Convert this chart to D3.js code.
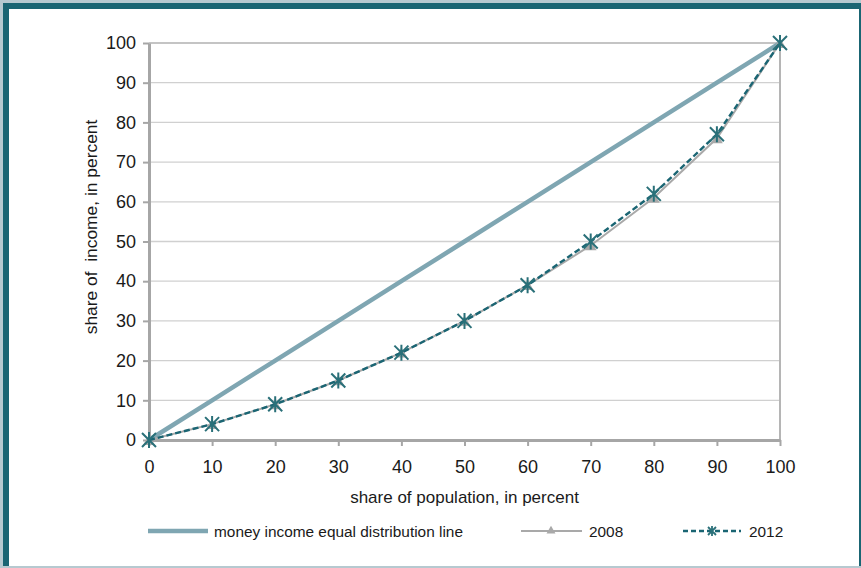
<!DOCTYPE html>
<html><head><meta charset="utf-8">
<script src="https://cdn.jsdelivr.net/npm/d3@7"></script>
<style>body{margin:0;padding:0;background:#fff}svg{display:block}text{font-family:"Liberation Sans",Arial,sans-serif;fill:#1a1a1a}</style>
</head><body>
<script>
const population = [0,10,20,30,40,50,60,70,80,90,100];
const equalLine = [0,10,20,30,40,50,60,70,80,90,100];
const share2008 = [0,4,9,15,22,30,39,49,61,76,100];
const share2012 = [0,4,9,15,22,30,39,50,62,77,100];
const yTicks = [0,10,20,30,40,50,60,70,80,90,100];
const xTitle = "share of population, in percent";
const yTitle = "share of  income, in percent";
const legendLabels = ["money income equal distribution line","2008","2012"];

const W=861,H=568;
const svg=d3.select("body").append("svg").attr("width",W).attr("height",H);
// frame
svg.append("rect").attr("width",W).attr("height",H).attr("fill","#b6c9d0");
svg.append("rect").attr("x",3).attr("y",3).attr("width",W-3).attr("height",563).attr("fill","#1a6573");
svg.append("rect").attr("x",9).attr("y",9).attr("width",850).attr("height",557).attr("fill","#ffffff");

const x=d3.scaleLinear().domain([0,100]).range([149,780]);
const y=d3.scaleLinear().domain([0,100]).range([440,43]);

// grid
svg.append("g").selectAll("line").data(yTicks.filter(d=>d>0)).join("line")
 .attr("x1",x(0)).attr("x2",x(100)).attr("y1",d=>y(d)).attr("y2",d=>y(d))
 .attr("stroke","#d0d0d0").attr("stroke-width",1.3);
svg.append("line").attr("x1",x(100)).attr("x2",x(100)).attr("y1",y(100)).attr("y2",y(0)).attr("stroke","#b5b5b5").attr("stroke-width",2);
svg.append("line").attr("x1",x(0)).attr("x2",x(100)).attr("y1",y(100)).attr("y2",y(100)).attr("stroke","#c4c4c4").attr("stroke-width",2);

// axes
const xAxis=svg.append("g").attr("transform",`translate(0,${y(0)})`)
 .call(d3.axisBottom(x).tickValues(population).tickSize(6).tickPadding(14).tickSizeOuter(0));
const yAxis=svg.append("g").attr("transform",`translate(${x(0)},0)`)
 .call(d3.axisLeft(y).tickValues(yTicks).tickSize(6).tickPadding(7).tickSizeOuter(0));
[xAxis,yAxis].forEach(a=>{
 a.select(".domain").attr("stroke","#a6a6a6").attr("stroke-width",3);
 a.selectAll(".tick line").attr("stroke","#a6a6a6").attr("stroke-width",2);
 a.selectAll(".tick text").attr("font-size",18).attr("fill","#1a1a1a").attr("font-family","Liberation Sans, Arial, sans-serif");
});

// titles
svg.append("text").attr("x",(x(0)+x(100))/2).attr("y",503).attr("text-anchor","middle").attr("font-size",17).text(xTitle);
svg.append("text").attr("transform",`translate(97,227) rotate(-90)`).attr("text-anchor","middle").attr("font-size",17.4).style("white-space","pre").attr("xml:space","preserve").text(yTitle);

const line=d3.line().x((d,i)=>x(population[i])).y(d=>y(d));
svg.append("path").attr("d",line(equalLine)).attr("fill","none").attr("stroke","#7fa6b2").attr("stroke-width",4.5);
svg.append("path").attr("d",line(share2008)).attr("fill","none").attr("stroke","#a9a9a9").attr("stroke-width",2);
const tri=d3.symbol().type(d3.symbolTriangle).size(60);
svg.append("g").selectAll("path").data(share2008).join("path")
 .attr("d",tri).attr("transform",(d,i)=>`translate(${x(population[i])},${y(d)+1.5})`).attr("fill","#a9a9a9");
svg.append("path").attr("d",line(share2012)).attr("fill","none").attr("stroke","#1a6573").attr("stroke-width",2.4).attr("stroke-dasharray","6,3");
function star(g,cx,cy,r,w){
 g.append("path").attr("d",`M${cx-r},${cy-r}L${cx+r},${cy+r}M${cx-r},${cy+r}L${cx+r},${cy-r}M${cx},${cy-r-1}L${cx},${cy+r+1}`)
  .attr("stroke","#2a7079").attr("stroke-width",w).attr("fill","none");
}
const sg=svg.append("g");
share2012.forEach((d,i)=>star(sg,x(population[i]),y(d),7,2));

// legend
const ly=531;
svg.append("line").attr("x1",148).attr("x2",208).attr("y1",ly).attr("y2",ly).attr("stroke","#7fa6b2").attr("stroke-width",4.5);
svg.append("text").attr("x",214).attr("y",ly+5.5).attr("font-size",15.4).text(legendLabels[0]);
svg.append("line").attr("x1",521).attr("x2",582).attr("y1",ly).attr("y2",ly).attr("stroke","#a9a9a9").attr("stroke-width",2);
svg.append("path").attr("d",d3.symbol().type(d3.symbolTriangle).size(35)).attr("transform",`translate(551,${ly})`).attr("fill","#a9a9a9");
svg.append("text").attr("x",589).attr("y",ly+5.5).attr("font-size",15.4).text(legendLabels[1]);
svg.append("line").attr("x1",683).attr("x2",741).attr("y1",ly).attr("y2",ly).attr("stroke","#1a6573").attr("stroke-width",2.4).attr("stroke-dasharray","5,3");
star(svg.append("g"),712,ly,4,1.8);
svg.append("text").attr("x",749).attr("y",ly+5.5).attr("font-size",15.4).text(legendLabels[2]);
</script>
</body></html>
